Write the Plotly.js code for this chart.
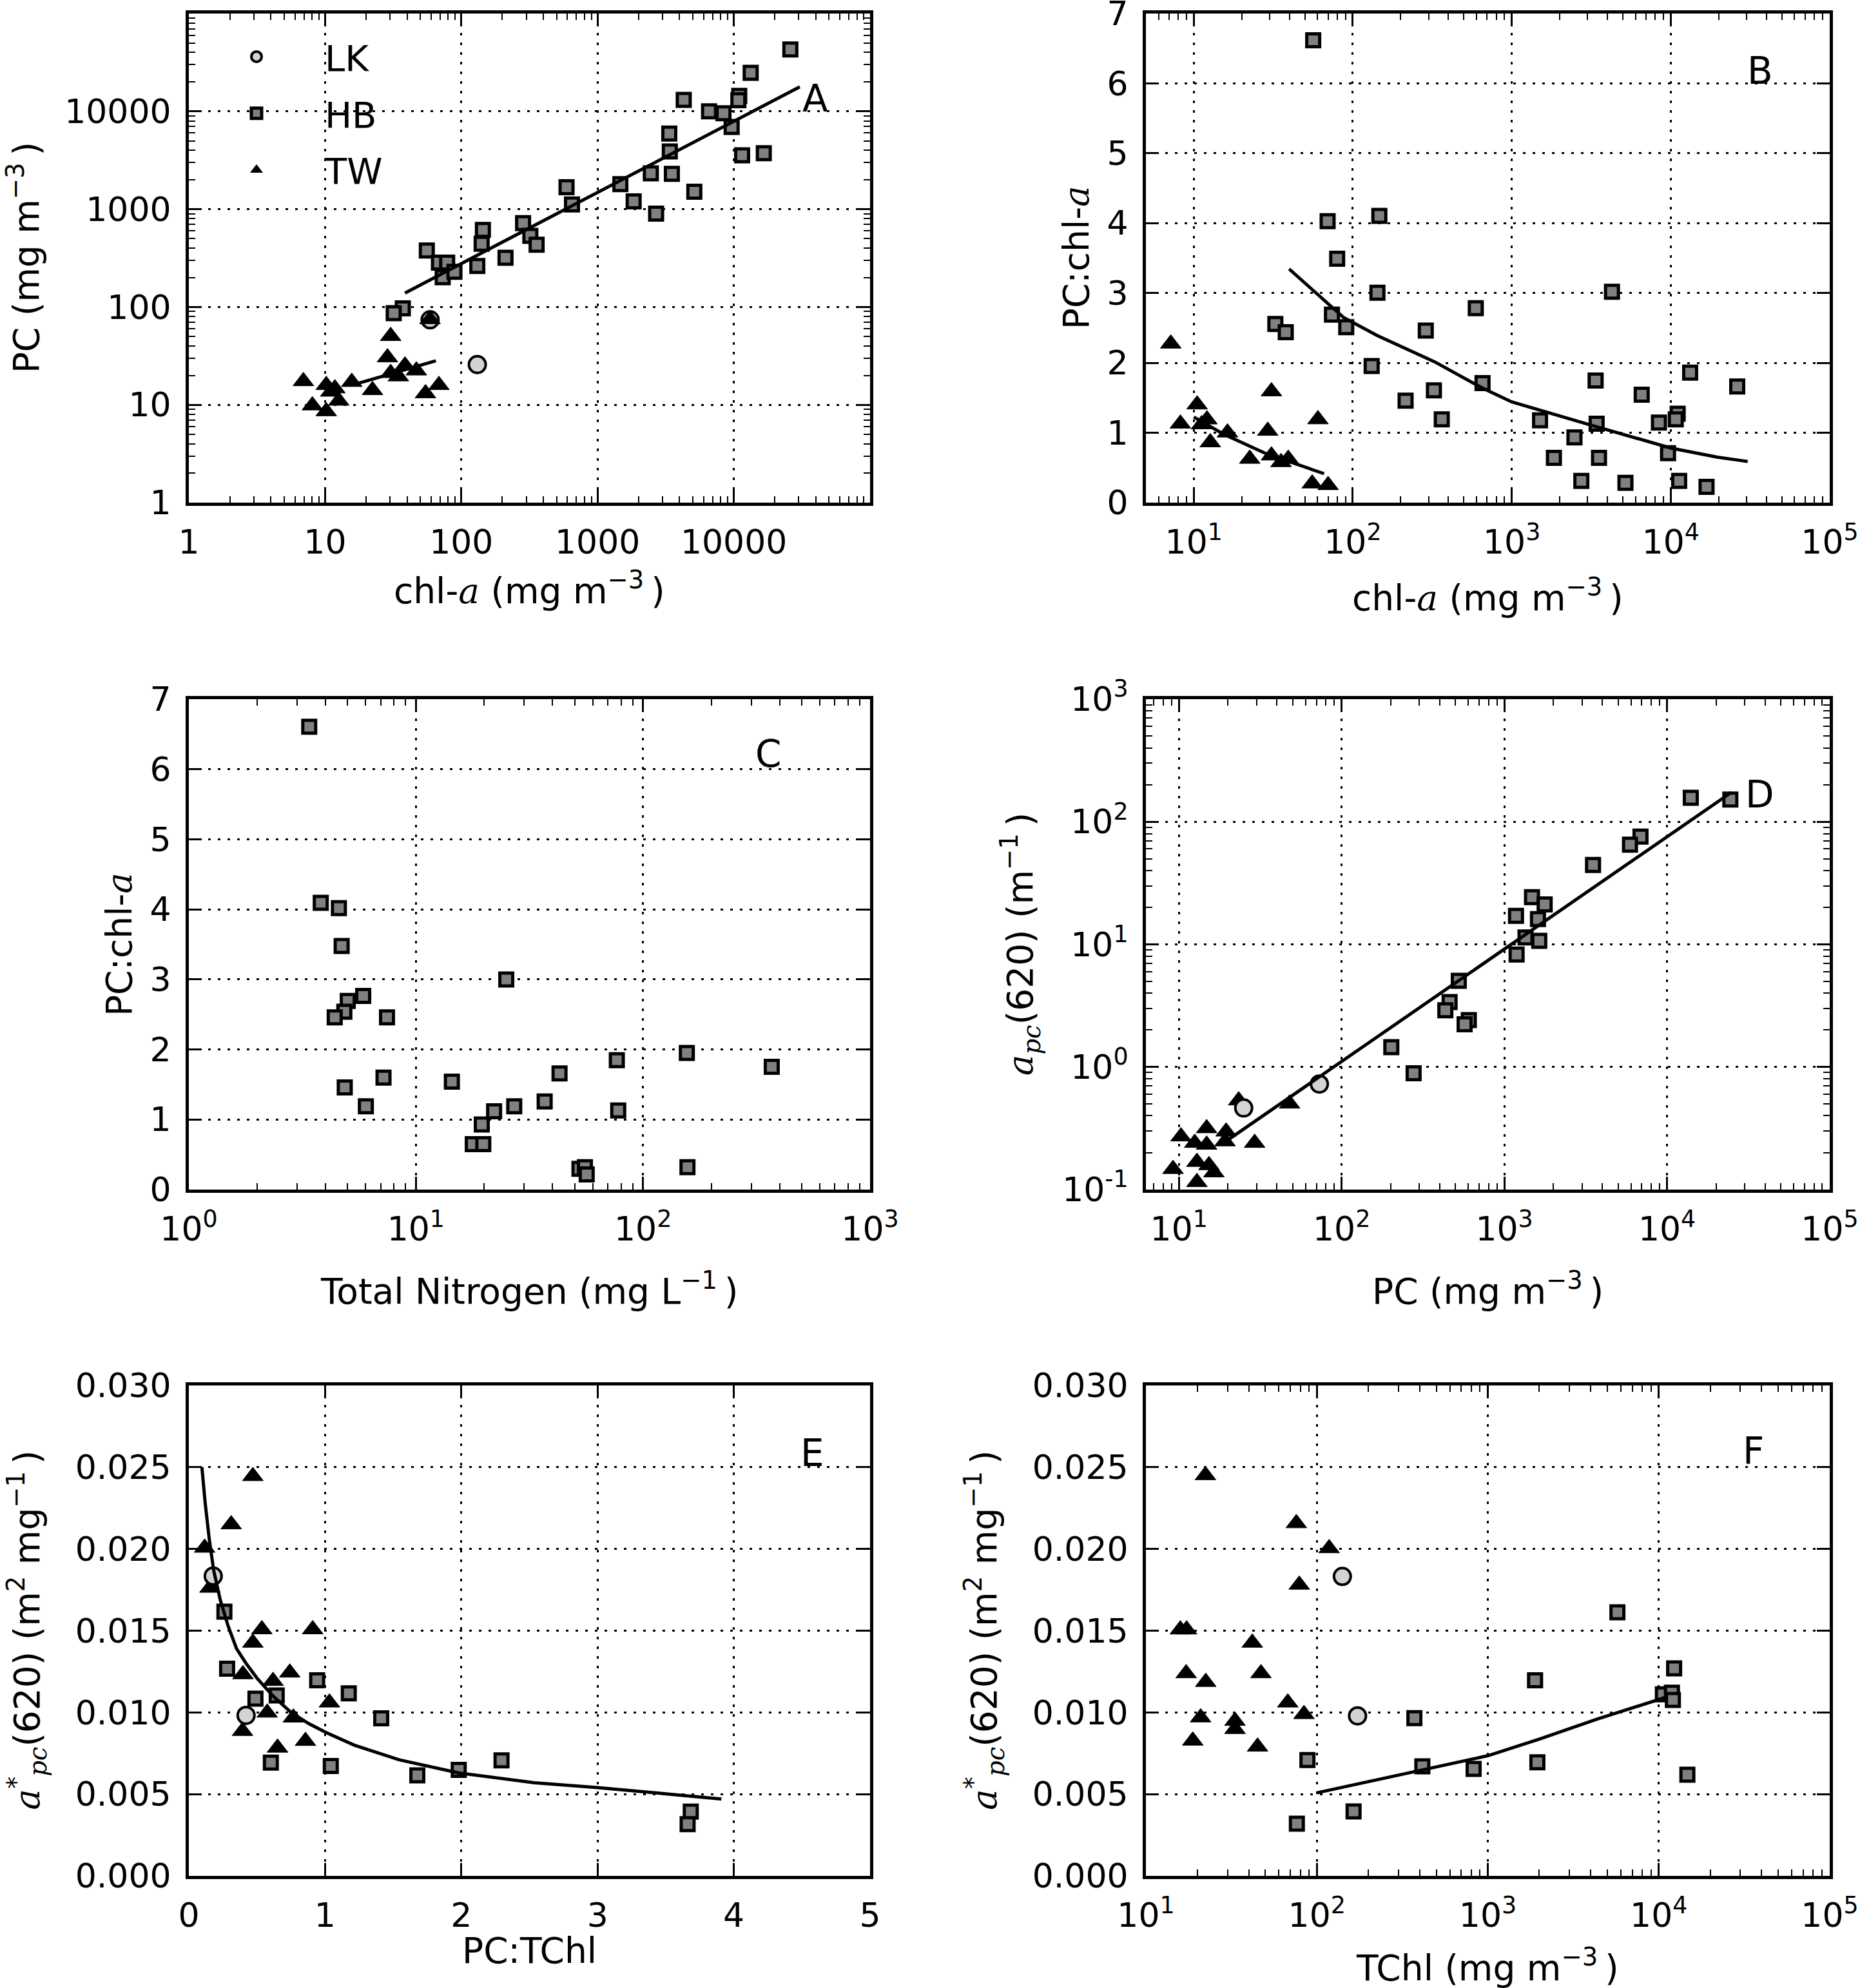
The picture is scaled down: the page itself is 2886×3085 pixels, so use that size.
<!DOCTYPE html>
<html>
<head>
<meta charset="utf-8">
<script src="https://cdn.plot.ly/plotly-3.0.1.min.js"></script>
<style>
  html, body { margin: 0; padding: 0; background: #ffffff; }
  #chart { width: 2886px; height: 3085px; }
</style>
</head>
<body>
<div id="chart"></div>
<script>
// ---------------- DATA ----------------
// Panel A: PC vs chl-a
const A_LK_chl = [59, 131];
const A_LK_pc  = [74, 25.8];
const A_HB_chl = [26000,13300,4290,10960,10800,6580,8400,9640,3360,3390,11500,16600,2460,3510,5130,1470,1840,2690,592,649,284,321,357,211,144,141,131,55.8,68.5,78.7,73,89,37.2,31.9];
const A_HB_pc  = [42900,24800,13100,14400,13000,10000,9550,6920,5930,3890,3550,3740,2320,2300,1510,1800,1200,902,1680,1117,721,533,434,319,614,444,263,378,284,284,201,229,96.8,86.3];
const A_TW_chl = [58.9,30.3,28.7,38.6,46.8,30.3,34.5,6.93,10.2,11.8,15.7,22.3,8.07,10.2,12.6,11.0,54.6,68.5];
const A_TW_pc  = [75,50.4,30.5,25.2,22.4,21.1,19.5,17.4,15.9,14.7,17.1,14.1,9.85,8.58,11.0,13.6,13.1,15.9];
const A_fitHB_chl = [38.6, 30500];
const A_fitHB_pc  = [139, 17800];
const A_fitTW_chl = [17.3, 65];
const A_fitTW_pc  = [16.5, 28.2];

// Panel B: PC:chl-a vs chl-a
const B_HB_chl   = [56.4,69.5,147,79.8,143,74,91,32.6,37.9,131.5,215,324,363,288,594,655,4270,1507,1842,2480,2740,3370,3420,3540,5190,6570,8430,9620,11060,10760,11300,13250,16800,26200];
const B_HB_ratio = [6.618,4.027,4.103,3.49,3.005,2.69,2.511,2.558,2.44,1.955,1.46,1.606,1.192,2.463,2.784,1.71,3.019,1.178,0.641,0.933,0.311,1.748,1.13,0.641,0.283,1.545,1.145,0.707,1.272,1.192,0.311,1.861,0.226,1.663];
const B_TW_chl   = [7.17,10.5,8.24,11.2,12.1,12.7,16.3,30.8,29.2,60.4,22.5,30.8,35.4,39.3,55.6,70];
const B_TW_ratio = [2.275,1.404,1.13,1.12,1.19,0.862,1.003,1.592,1.027,1.192,0.626,0.674,0.579,0.626,0.273,0.25];
const B_fitHB_chl   = [39.8,87.3,142,327,655,1000,3020,6040,10000,19700,30500];
const B_fitHB_ratio = [3.344,2.652,2.393,2.016,1.639,1.441,1.121,0.918,0.782,0.65,0.589];
const B_fitTW_chl   = [10,15.4,28.8,66];
const B_fitTW_ratio = [1.225,0.98,0.697,0.415];

// Panel C: PC:chl-a vs Total Nitrogen
const C_HB_tn    = [3.39,3.81,4.58,4.71,25.0,5.86,5.01,4.84,4.39,7.46,76.7,156,369,42.9,7.2,14.4,4.86,6.02,36.9,27.1,22.1,77.8,19.5,17.8,19.8,52.5,55.5,56.5,157];
const C_HB_ratio = [6.607,4.093,4.018,3.477,2.998,2.763,2.693,2.538,2.458,2.458,1.847,1.95,1.753,1.659,1.598,1.541,1.457,1.189,1.259,1.189,1.118,1.128,0.93,0.648,0.648,0.296,0.32,0.216,0.32];

// Panel D: a_pc(620) vs PC
const D_HB_pc  = [24500,14000,6870,5920,3510,1480,1770,1180,1610,1350,1640,1190,525,461,434,605,570,202,277];
const D_HB_apc = [152,157,75.8,65,44.4,24.3,21.2,17.1,16.1,11.4,10.7,8.26,5.05,3.38,2.9,2.41,2.23,1.45,0.89];
const D_TW_pc  = [47.9,23.3,29.2,10.3,14.8,19.5,12.5,14.8,19.2,9.2,12.9,15.3,16.4,12.9];
const D_TW_apc = [0.502,0.533,0.24,0.271,0.316,0.297,0.24,0.232,0.247,0.147,0.168,0.158,0.138,0.115];
const D_LK_pc  = [25, 73];
const D_LK_apc = [0.463, 0.726];
const D_fit_pc  = [20.1, 24900];
const D_fit_apc = [0.255, 174];

// Panel E: a*_pc(620) vs PC:TChl
const E_HB_ratio = [0.261,0.281,0.489,0.645,0.942,1.174,1.412,0.602,1.042,1.677,1.981,2.295,3.684,3.661];
const E_HB_astar = [0.01616,0.01267,0.01084,0.01104,0.01196,0.01117,0.00964,0.00693,0.00672,0.00615,0.00648,0.00707,0.00393,0.00316];
const E_TW_ratio = [0.47,0.311,0.116,0.155,0.536,0.909,0.47,0.397,0.741,0.618,1.032,0.575,0.767,0.394,0.856,0.651];
const E_TW_astar = [0.02445,0.0215,0.02007,0.01762,0.01508,0.01508,0.01426,0.01233,0.01243,0.01192,0.0106,0.00998,0.00968,0.00886,0.00825,0.00784];
const E_LK_ratio = [0.179, 0.42];
const E_LK_astar = [0.01834, 0.00982];
const E_fit_ratio = [0.096,0.12,0.15,0.182,0.23,0.288,0.35,0.42,0.5,0.618,0.75,0.883,1.0,1.214,1.544,1.981,2.536,3.0,3.528,3.909];
const E_fit_astar = [0.025,0.0228,0.0206,0.0187,0.0169,0.0153,0.0139,0.0130,0.0121,0.0110,0.0100,0.0093,0.0088,0.0080,0.0071,0.0063,0.0057,0.0054,0.0050,0.0047];

// Panel F: a*_pc(620) vs TChl
const F_HB_tchl  = [5730,12300,1890,10570,11940,12100,372,88.1,414,826,1950,14700,164,76.4];
const F_HB_astar = [0.01612,0.01269,0.01196,0.01111,0.01121,0.01076,0.00965,0.00709,0.0067,0.00654,0.00695,0.00619,0.00394,0.00319];
const F_TW_tchl  = [22.3,75.9,118,78.9,15.9,17.3,41.9,17.2,47.1,22.4,67.6,84.1,20.9,33.2,33.2,18.8,45];
const F_TW_astar = [0.02451,0.02157,0.02004,0.01781,0.01507,0.01507,0.01426,0.01239,0.01239,0.01186,0.0106,0.00989,0.00969,0.00948,0.00898,0.00827,0.0079];
const F_LK_tchl  = [141, 173];
const F_LK_astar = [0.01832, 0.00979];
const F_fit_tchl  = [100,414,1000,2010,4370,10800];
const F_fit_astar = [0.00508,0.0065,0.00735,0.00837,0.00959,0.0109];

// Tick labels
const A_tickvals = [1,10,100,1000,10000];
const A_ticktext = ['1','10','100','1000','10000'];
const dec_vals_1to5 = [10,100,1000,10000,100000];
const dec_text_1to5 = ['10<sup>1</sup>','10<sup>2</sup>','10<sup>3</sup>','10<sup>4</sup>','10<sup>5</sup>'];
const C_xvals = [1,10,100,1000];
const C_xtext = ['10<sup>0</sup>','10<sup>1</sup>','10<sup>2</sup>','10<sup>3</sup>'];
const D_yvals = [0.1,1,10,100,1000];
const D_ytext = ['10<sup>-1</sup>','10<sup>0</sup>','10<sup>1</sup>','10<sup>2</sup>','10<sup>3</sup>'];
const ratio_ticks = [0,1,2,3,4,5,6,7];
const astar_ticks = [0,0.005,0.010,0.015,0.020,0.025,0.030];
const astar_text  = ['0.000','0.005','0.010','0.015','0.020','0.025','0.030'];
const E_xticks = [0,1,2,3,4,5];

// ---------------- STYLE ----------------
const FONT = 'DejaVu Sans, Liberation Sans, sans-serif';
const TICK_SIZE = 52;
const TITLE_SIZE = 55;
const HB_FILL = '#808080';
const LK_FILL = '#d3d3d3';

const mk = {
  LK: {symbol: 'circle', size: 26, color: LK_FILL, line: {color: 'black', width: 4}},
  HB: {symbol: 'square', size: 20, color: HB_FILL, line: {color: 'black', width: 5}},
  TW: {symbol: 'triangle-up', size: 28, color: 'black', line: {color: 'black', width: 1}}
};

function pts(x, y, xa, ya, kind, show) {
  return {
    type: 'scatter', mode: 'markers', x: x, y: y, xaxis: xa, yaxis: ya,
    name: kind, legendgroup: kind, showlegend: !!show,
    marker: mk[kind], hoverinfo: 'skip', cliponaxis: true
  };
}
function fit(x, y, xa, ya) {
  return {
    type: 'scatter', mode: 'lines', x: x, y: y, xaxis: xa, yaxis: ya,
    showlegend: false, line: {color: 'black', width: 5}, hoverinfo: 'skip'
  };
}

const traces = [
  // A
  pts(A_LK_chl, A_LK_pc, 'x', 'y', 'LK', true),
  pts(A_HB_chl, A_HB_pc, 'x', 'y', 'HB', true),
  pts(A_TW_chl, A_TW_pc, 'x', 'y', 'TW', true),
  fit(A_fitHB_chl, A_fitHB_pc, 'x', 'y'),
  fit(A_fitTW_chl, A_fitTW_pc, 'x', 'y'),
  // B
  pts(B_HB_chl, B_HB_ratio, 'x2', 'y2', 'HB'),
  pts(B_TW_chl, B_TW_ratio, 'x2', 'y2', 'TW'),
  fit(B_fitHB_chl, B_fitHB_ratio, 'x2', 'y2'),
  fit(B_fitTW_chl, B_fitTW_ratio, 'x2', 'y2'),
  // C
  pts(C_HB_tn, C_HB_ratio, 'x3', 'y3', 'HB'),
  // D
  pts(D_TW_pc, D_TW_apc, 'x4', 'y4', 'TW'),
  pts(D_HB_pc, D_HB_apc, 'x4', 'y4', 'HB'),
  pts(D_LK_pc, D_LK_apc, 'x4', 'y4', 'LK'),
  fit(D_fit_pc, D_fit_apc, 'x4', 'y4'),
  // E
  pts(E_TW_ratio, E_TW_astar, 'x5', 'y5', 'TW'),
  pts(E_HB_ratio, E_HB_astar, 'x5', 'y5', 'HB'),
  pts(E_LK_ratio, E_LK_astar, 'x5', 'y5', 'LK'),
  fit(E_fit_ratio, E_fit_astar, 'x5', 'y5'),
  // F
  pts(F_TW_tchl, F_TW_astar, 'x6', 'y6', 'TW'),
  pts(F_HB_tchl, F_HB_astar, 'x6', 'y6', 'HB'),
  pts(F_LK_tchl, F_LK_astar, 'x6', 'y6', 'LK'),
  fit(F_fit_tchl, F_fit_astar, 'x6', 'y6')
];

// ---------------- AXES ----------------
const W = 2886, H = 3085;
const colL = [293 / W, 1350 / W];
const colR = [1778 / W, 2839 / W];
const row1 = [1 - 780 / H, 1 - 21 / H];
const row2 = [1 - 1846 / H, 1 - 1085 / H];
const row3 = [1 - 2911 / H, 1 - 2150 / H];

function axis(o) {
  const base = {
    showline: true, linecolor: 'black', linewidth: 5, mirror: 'allticks',
    ticks: 'inside', ticklen: 20, tickwidth: 3, tickcolor: 'black',
    showgrid: true, gridcolor: 'black', gridwidth: 3, griddash: '4px,11px',
    zeroline: false, fixedrange: true,
    tickfont: {family: FONT, size: TICK_SIZE, color: 'black'},
    ticklabelstandoff: 12, ticklabeloverflow: 'allow'
  };
  return Object.assign(base, o);
}
const logMinor = {ticks: 'inside', ticklen: 10, tickwidth: 2, tickcolor: 'black', showgrid: false, tickmode: 'linear', dtick: 'D1'};

const serifA = '<span style="font-family:DejaVu Serif;font-style:italic">a</span>';
const serifPC = '<span style="font-family:DejaVu Serif;font-style:italic">pc</span>';
const TS = '\u2009'; // thin space, as in the reference's "m⁻³ )"

const layout = {
  width: W, height: H,
  margin: {l: 0, r: 0, t: 0, b: 0},
  paper_bgcolor: 'white', plot_bgcolor: 'white',
  font: {family: FONT, size: TITLE_SIZE, color: 'black'},
  hovermode: false,
  showlegend: true,
  legend: {
    x: 292 / W, y: 1 - 45 / H, xanchor: 'left', yanchor: 'top',
    bgcolor: 'rgba(0,0,0,0)', borderwidth: 0,
    font: {family: FONT, size: 56, color: 'black'},
    itemwidth: 202, tracegroupgap: 12, traceorder: 'grouped', itemsizing: 'trace'
  },
  // A
  xaxis:  axis({domain: colL, anchor: 'y',  type: 'log', range: [0, 5], tickmode: 'array', tickvals: A_tickvals, ticktext: A_ticktext, minor: logMinor}),
  yaxis:  axis({domain: row1, anchor: 'x',  type: 'log', range: [0, 5], tickmode: 'array', tickvals: A_tickvals, ticktext: A_ticktext, minor: logMinor}),
  // B
  xaxis2: axis({domain: colR, anchor: 'y2', type: 'log', range: [Math.log10(5), 5], tickmode: 'array', tickvals: dec_vals_1to5, ticktext: dec_text_1to5, minor: logMinor}),
  yaxis2: axis({domain: row1, anchor: 'x2', range: [0, 7], tickmode: 'array', tickvals: ratio_ticks}),
  // C
  xaxis3: axis({domain: colL, anchor: 'y3', type: 'log', range: [0, 3], tickmode: 'array', tickvals: C_xvals, ticktext: C_xtext, minor: logMinor}),
  yaxis3: axis({domain: row2, anchor: 'x3', range: [0, 7], tickmode: 'array', tickvals: ratio_ticks}),
  // D
  xaxis4: axis({domain: colR, anchor: 'y4', type: 'log', range: [0.797, 5], tickmode: 'array', tickvals: dec_vals_1to5, ticktext: dec_text_1to5, minor: logMinor}),
  yaxis4: axis({domain: row2, anchor: 'x4', type: 'log', range: [-1, 3], tickmode: 'array', tickvals: D_yvals, ticktext: D_ytext, minor: logMinor}),
  // E
  xaxis5: axis({domain: colL, anchor: 'y5', range: [0, 5], tickmode: 'array', tickvals: E_xticks}),
  yaxis5: axis({domain: row3, anchor: 'x5', range: [0, 0.03], tickmode: 'array', tickvals: astar_ticks, ticktext: astar_text}),
  // F
  xaxis6: axis({domain: colR, anchor: 'y6', type: 'log', range: [1, 5], tickmode: 'array', tickvals: dec_vals_1to5, ticktext: dec_text_1to5, minor: logMinor}),
  yaxis6: axis({domain: row3, anchor: 'x6', range: [0, 0.03], tickmode: 'array', tickvals: astar_ticks, ticktext: astar_text}),
  annotations: []
};

function letter(t, xa, ya, x, y) {
  return {text: t, xref: xa + ' domain', yref: ya + ' domain', x: x, y: y,
          xanchor: 'center', yanchor: 'middle', showarrow: false,
          font: {family: FONT, size: 58, color: 'black'}};
}
function title(t, x, y, rot) {
  return {text: t, xref: 'paper', yref: 'paper', x: x, y: y,
          xanchor: 'center', yanchor: 'middle', showarrow: false, textangle: rot || 0,
          font: {family: FONT, size: TITLE_SIZE, color: 'black'}};
}

layout.annotations.push(
  letter('A', 'x',  'y',  0.92,  0.826),
  letter('B', 'x2', 'y2', 0.898, 0.883),
  letter('C', 'x3', 'y3', 0.851, 0.888),
  letter('D', 'x4', 'y4', 0.898, 0.806),
  letter('E', 'x5', 'y5', 0.915, 0.862),
  letter('F', 'x6', 'y6', 0.888, 0.866),
  // x titles
  title('chl-' + serifA + ' (mg m<sup>−3</sup>' + TS + ')', 0.2846, 0.704),
  title('chl-' + serifA + ' (mg m<sup>−3</sup>' + TS + ')', 0.7998, 0.7005),
  title('Total Nitrogen (mg L<sup>−1</sup>' + TS + ')', 0.2846, 0.3517),
  title('PC (mg m<sup>−3</sup>' + TS + ')', 0.7998, 0.3517),
  title('PC:TChl', 0.2846, 0.0188),
  title('TChl (mg m<sup>−3</sup>' + TS + ')', 0.7998, 0.0113),
  // y titles
  title('PC (mg m<sup>−3</sup>' + TS + ')', 0.0129, 0.8703, -90),
  title('PC:chl-' + serifA, 0.5787, 0.8703, -90),
  title('PC:chl-' + serifA, 0.0641, 0.5251, -90),
  title(serifA + '<sub>' + serifPC + '</sub>(620) (m<sup>−1</sup>' + TS + ')', 0.5486, 0.5251, -90),
  title(serifA + '<sup>*</sup><sub>' + serifPC + '</sub>(620) (m<sup>2</sup> mg<sup>−1</sup>' + TS + ')', 0.0145, 0.1799, -90),
  title(serifA + '<sup>*</sup><sub>' + serifPC + '</sub>(620) (m<sup>2</sup> mg<sup>−1</sup>' + TS + ')', 0.5291, 0.1799, -90)
);

Plotly.newPlot('chart', traces, layout, {staticPlot: true, displayModeBar: false});
</script>
</body>
</html>
